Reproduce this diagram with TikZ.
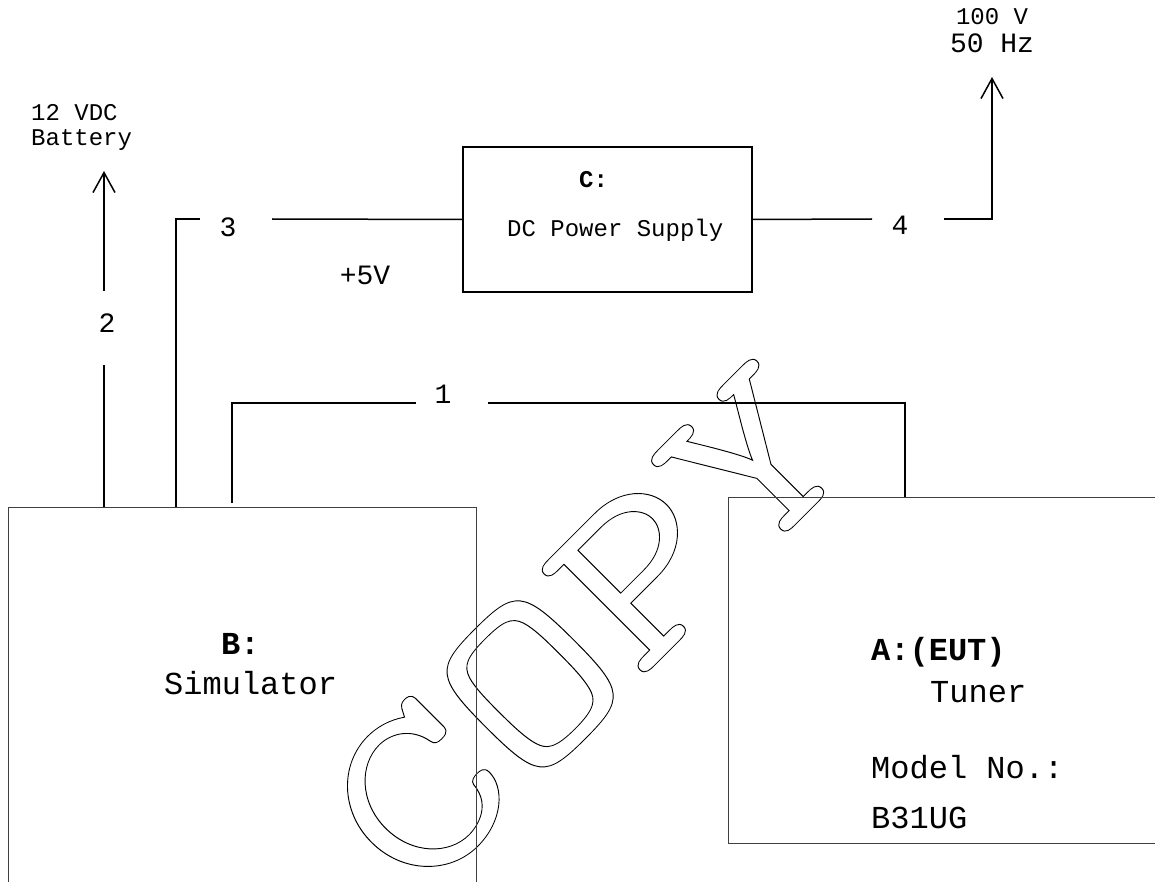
\documentclass[tikz,border=0pt]{standalone}
\usepackage{fontspec}
\setmainfont{Liberation Mono}
\usepackage{graphicx}
\usetikzlibrary{arrows.meta}

% outlined letters for the watermark
\newcommand{\outlined}[1]{\special{pdf:literal direct 1 Tr 0.8 w}#1\special{pdf:literal direct 0 Tr}}

\begin{document}
\begin{tikzpicture}[
  x=1pt, y=-1pt,
  unit/.style={draw=black!75, line width=1pt, outer sep=0pt, inner sep=0pt},
  psu/.style={draw=black, line width=1.5pt, outer sep=0pt, inner sep=0pt, minimum width=289pt, minimum height=145pt},
  lbl/.style={inner sep=0pt, anchor=base west, font=\fontsize{32}{36}\selectfont},
  lblsm/.style={inner sep=0pt, anchor=base west, font=\fontsize{24}{28}\selectfont},
  num/.style={inner sep=0pt, anchor=base, font=\fontsize{28}{32}\selectfont},
  wire/.style={line width=1.5pt},
  supply/.style={wire, -{Straight Barb[length=20pt,width=22pt]}}
]
\useasboundingbox (0,0) rectangle (1155,882);
\clip (0,0) rectangle (1155,882);

% watermark
\node[rotate=45, inner sep=0pt, font=\ttfamily\fontsize{245}{245}\selectfont] (wmark) at (586,628)
  {\scalebox{1.25}[1]{\outlined{COPY}}};

% units
\node[unit, minimum width=468pt, minimum height=393pt] (simbox) at (242,703.5) {};
\node[unit, minimum width=442pt, minimum height=346pt] (tunerbox) at (949,670) {};
\node[psu] (dcbox) at (607.5,219.5) {};

% texts in the units
\node[lbl, font=\fontsize{32}{36}\selectfont\bfseries] (blbl) at (221,654) {B:};
\node[lbl] (simlbl) at (164,694) {Simulator};
\node[lbl, font=\fontsize{32}{36}\selectfont\bfseries] (albl) at (871,660) {A:(EUT)};
\node[lbl] (tunlbl) at (930,702) {Tuner};
\node[lbl] (modlbl) at (871,778) {Model No.:};
\node[lbl] (numlbl) at (871,828) {B31UG};
\node[lblsm, font=\fontsize{24}{28}\selectfont\bfseries] (clbl) at (579,188) {C:};
\node[lblsm] (dclbl) at (507,237) {DC Power Supply};

% sources
\node[lblsm] (bat1) at (31,121) {12 VDC};
\node[lblsm] (bat2) at (31,146) {Battery};
\node[lblsm, anchor=base] (ac1) at (992,25) {100 V};
\node[num] (ac2) at (992,53) {50 Hz};

% cable numbers
\node[num] (n1) at (443,403) {1};
\node[num] (n2) at (107,332) {2};
\node[num] (n3) at (228,237) {3};
\node[num] (n4) at (900,235) {4};
\node[num] (v5) at (365,285) {+5V};

% break points of the cables
\coordinate (c2a) at (104,365);
\coordinate (c2b) at (104,291);
\coordinate (c2tip) at (104,171);
\coordinate (c3a) at (200,219);
\coordinate (c3b) at (272,219);
\coordinate (c1a) at (416,403);
\coordinate (c1b) at (488,403);
\coordinate (c4a) at (872,219);
\coordinate (c4b) at (944,219);
\coordinate (c4tip) at (992,77);

% cable 2
\draw[wire] ([xshift=96pt]simbox.north west) -- (c2a);
\draw[supply] (c2b) -- (c2tip);
% cable 3
\draw[wire] ([xshift=168pt]simbox.north west) |- (c3a);
\draw[wire] (c3b) -- (dcbox.west);
% cable 1
\draw[wire] ([xshift=224pt,yshift=4pt]simbox.north west) |- (c1a);
\draw[wire] (c1b) -| ([xshift=177pt]tunerbox.north west);
% cable 4
\draw[wire] (dcbox.east) -- (c4a);
\draw[supply] (c4b) -| (c4tip);

\end{tikzpicture}
\end{document}
